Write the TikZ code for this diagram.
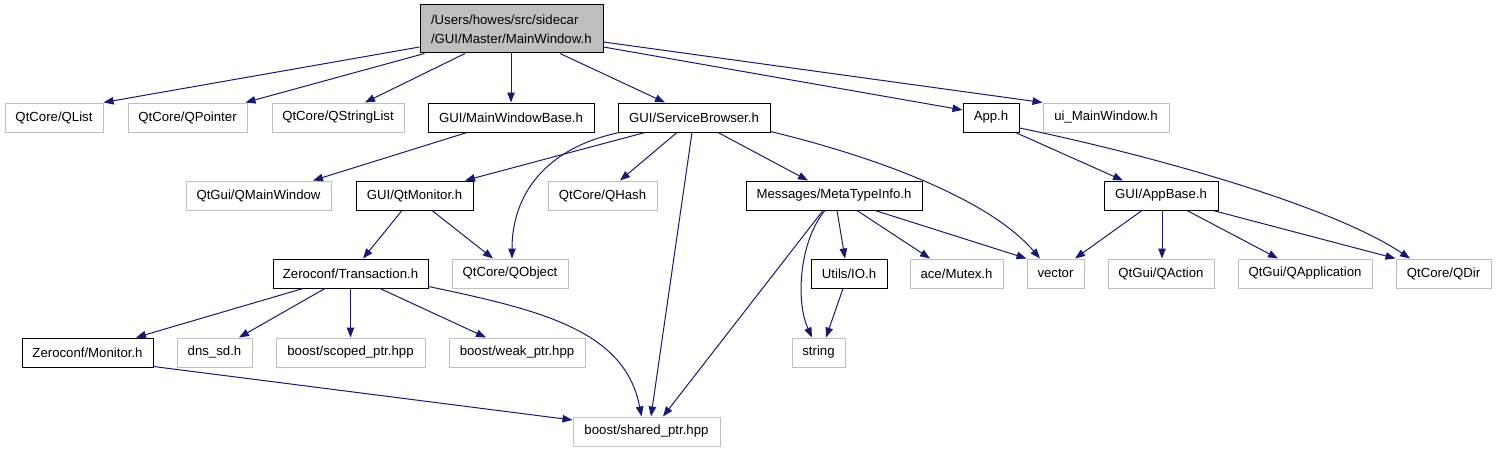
\documentclass[tikz,border=0pt]{standalone}
\usepackage{fontspec}
\setmainfont{Liberation Sans}
\usetikzlibrary{arrows.meta}
\definecolor{edgeblue}{HTML}{191970}
\definecolor{undoc}{HTML}{BFBFBF}
\definecolor{mainfill}{HTML}{BFBFBF}
\begin{document}
\begin{tikzpicture}[x=1pt,y=-1pt,
  every node/.style={font=\fontsize{13.2}{19}\selectfont, inner sep=0pt, minimum height=29pt, line width=1pt, text=black},
  docbox/.style={draw=black, fill=white},
  undocbox/.style={draw=undoc, fill=white},
  dep/.style={draw=edgeblue, line width=1pt, -{Triangle[length=10pt,width=7.5pt]}, fill=none},
]
\useasboundingbox[fill=white] (0,0) rectangle (1497,452);
% row 0
\node[draw=black, fill=mainfill, minimum width=183pt, minimum height=48pt, text width=161pt, inner xsep=11pt, align=left] (mw) at (511.5,29) {/Users/howes/src/sidecar\\/GUI/Master/MainWindow.h};
% row 1
\node[undocbox, minimum width=98pt] (qlist) at (54,117.5) {QtCore/QList};
\node[undocbox, minimum width=119pt] (qpointer) at (187.5,117.5) {QtCore/QPointer};
\node[undocbox, minimum width=132pt] (qstringlist) at (338,117.5) {QtCore/QStringList};
\node[docbox, minimum width=166pt] (mwbase) at (511,117.5) {GUI/MainWindowBase.h};
\node[docbox, minimum width=152pt] (sb) at (694,117.5) {GUI/ServiceBrowser.h};
\node[docbox, minimum width=56pt] (app) at (991,117.5) {App.h};
\node[undocbox, minimum width=126pt] (uimw) at (1106,117.5) {ui\_MainWindow.h};
% row 2
\node[undocbox, minimum width=145pt] (qmainwindow) at (258.5,195.5) {QtGui/QMainWindow};
\node[docbox, minimum width=117pt] (qtmonitor) at (414.5,195.5) {GUI/QtMonitor.h};
\node[undocbox, minimum width=109pt] (qhash) at (602.5,195.5) {QtCore/QHash};
\node[docbox, minimum width=176pt] (mti) at (834,195.5) {Messages/MetaTypeInfo.h};
\node[docbox, minimum width=114pt] (appbase) at (1161,195.5) {GUI/AppBase.h};
% row 3
\node[docbox, minimum width=155pt] (transaction) at (350.5,273.5) {Zeroconf/Transaction.h};
\node[undocbox, minimum width=116pt] (qobject) at (510,273.5) {QtCore/QObject};
\node[docbox, minimum width=76pt] (io) at (849,273.5) {Utils/IO.h};
\node[undocbox, minimum width=93pt] (mutex) at (956.5,273.5) {ace/Mutex.h};
\node[undocbox, minimum width=57pt] (vector) at (1055.5,273.5) {vector};
\node[undocbox, minimum width=106pt] (qaction) at (1161,273.5) {QtGui/QAction};
\node[undocbox, minimum width=134pt] (qapplication) at (1305,273.5) {QtGui/QApplication};
\node[undocbox, minimum width=95pt] (qdir) at (1443.5,273.5) {QtCore/QDir};
% row 4
\node[docbox, minimum width=131pt] (monitor) at (87.5,352.5) {Zeroconf/Monitor.h};
\node[undocbox, minimum width=75pt] (dnssd) at (214.5,352.5) {dns\_sd.h};
\node[undocbox, minimum width=149pt] (scoped) at (350.5,352.5) {boost/scoped\_ptr.hpp};
\node[undocbox, minimum width=136pt] (weak) at (517,352.5) {boost/weak\_ptr.hpp};
\node[undocbox, minimum width=53pt] (string) at (818.5,352.5) {string};
% row 5
\node[undocbox, minimum width=147pt] (shared) at (646.5,431.5) {boost/shared\_ptr.hpp};

% edges from MainWindow.h
\draw[dep] ([yshift=-18pt]mw.west) -- (qlist.north east);
\draw[dep] ([xshift=5pt]mw.south west) -- ([xshift=-2pt]qpointer.north east);
\draw[dep] ([xshift=-46.5pt]mw.south) -- ([xshift=27pt]qstringlist.north);
\draw[dep] (mwbase.north |- mw.south) -- (mwbase.north);
\draw[dep] ([xshift=48.5pt]mw.south) -- ([xshift=-29pt]sb.north);
\draw[dep] ([yshift=-18pt]mw.east) -- ([yshift=7.5pt]app.west);
\draw[dep] ([yshift=-13pt]mw.east) -- (uimw.north west);
% MainWindowBase
\draw[dep] ([xshift=-44pt]mwbase.south) -- ([xshift=54.5pt]qmainwindow.north);
% ServiceBrowser
\draw[dep] ([xshift=-49pt]sb.south) -- ([xshift=50.5pt]qtmonitor.north);
\draw[dep] ([xshift=2pt]sb.south west) .. controls (545,148) and (512,195) .. ([xshift=2pt]qobject.north);
\draw[dep] ([xshift=-17pt]sb.south) -- ([xshift=17.5pt]qhash.north);
\draw[dep] ([xshift=-2pt]sb.south) -- ([xshift=4.5pt]shared.north);
\draw[dep] ([xshift=24pt]sb.south) -- ([xshift=-26pt]mti.north);
\draw[dep] ([yshift=1pt]sb.south east) .. controls (880,158) and (990,200) .. ([xshift=-15.5pt]vector.north);
% App.h
\draw[dep] ([xshift=-4pt]app.south east) -- ([xshift=-38pt]appbase.north);
\draw[dep] ([yshift=-10.5pt]app.east) .. controls (1150,155) and (1330,205) .. ([xshift=-33.5pt]qdir.north);
% MetaTypeInfo
\draw[dep] ([xshift=-11pt]mti.south) -- ([xshift=16.5pt]shared.north);
\draw[dep] ([xshift=-9pt]mti.south) .. controls (800,240) and (795,300) .. ([xshift=-6.5pt]string.north);
\draw[dep] ([xshift=3pt]mti.south) -- ([xshift=-4pt]io.north);
\draw[dep] ([xshift=23pt]mti.south) -- ([xshift=-26.5pt]mutex.north);
\draw[dep] ([xshift=41pt]mti.south) -- (vector.north west);
% Utils/IO.h
\draw[dep] ([xshift=-6pt]io.south) -- ([xshift=7.5pt]string.north);
% AppBase
\draw[dep] ([xshift=-19pt]appbase.south) -- ([xshift=19.5pt]vector.north);
\draw[dep] ([xshift=1pt]appbase.south) -- ([xshift=1pt]qaction.north);
\draw[dep] ([xshift=26pt]appbase.south) -- ([xshift=-27pt]qapplication.north);
\draw[dep] ([xshift=52pt]appbase.south) -- (qdir.north west);
% QtMonitor
\draw[dep] ([xshift=-12.5pt]qtmonitor.south) -- ([xshift=12.5pt]transaction.north);
\draw[dep] ([xshift=17.5pt]qtmonitor.south) -- ([xshift=-17pt]qobject.north);
% Transaction
\draw[dep] ([xshift=-47.5pt]transaction.south) -- ([xshift=48.5pt]monitor.north);
\draw[dep] ([xshift=-25.5pt]transaction.south) -- ([xshift=24.5pt]dnssd.north);
\draw[dep] (transaction.south) -- (scoped.north);
\draw[dep] ([xshift=29.5pt]transaction.south) -- ([xshift=-31pt]weak.north);
\draw[dep] ([yshift=2pt]transaction.south east) .. controls (540,310) and (625,330) .. ([xshift=-5pt]shared.north);
% Monitor
\draw[dep] ([yshift=1pt]monitor.south east) -- ([yshift=11.5pt]shared.west);
\end{tikzpicture}
\end{document}
